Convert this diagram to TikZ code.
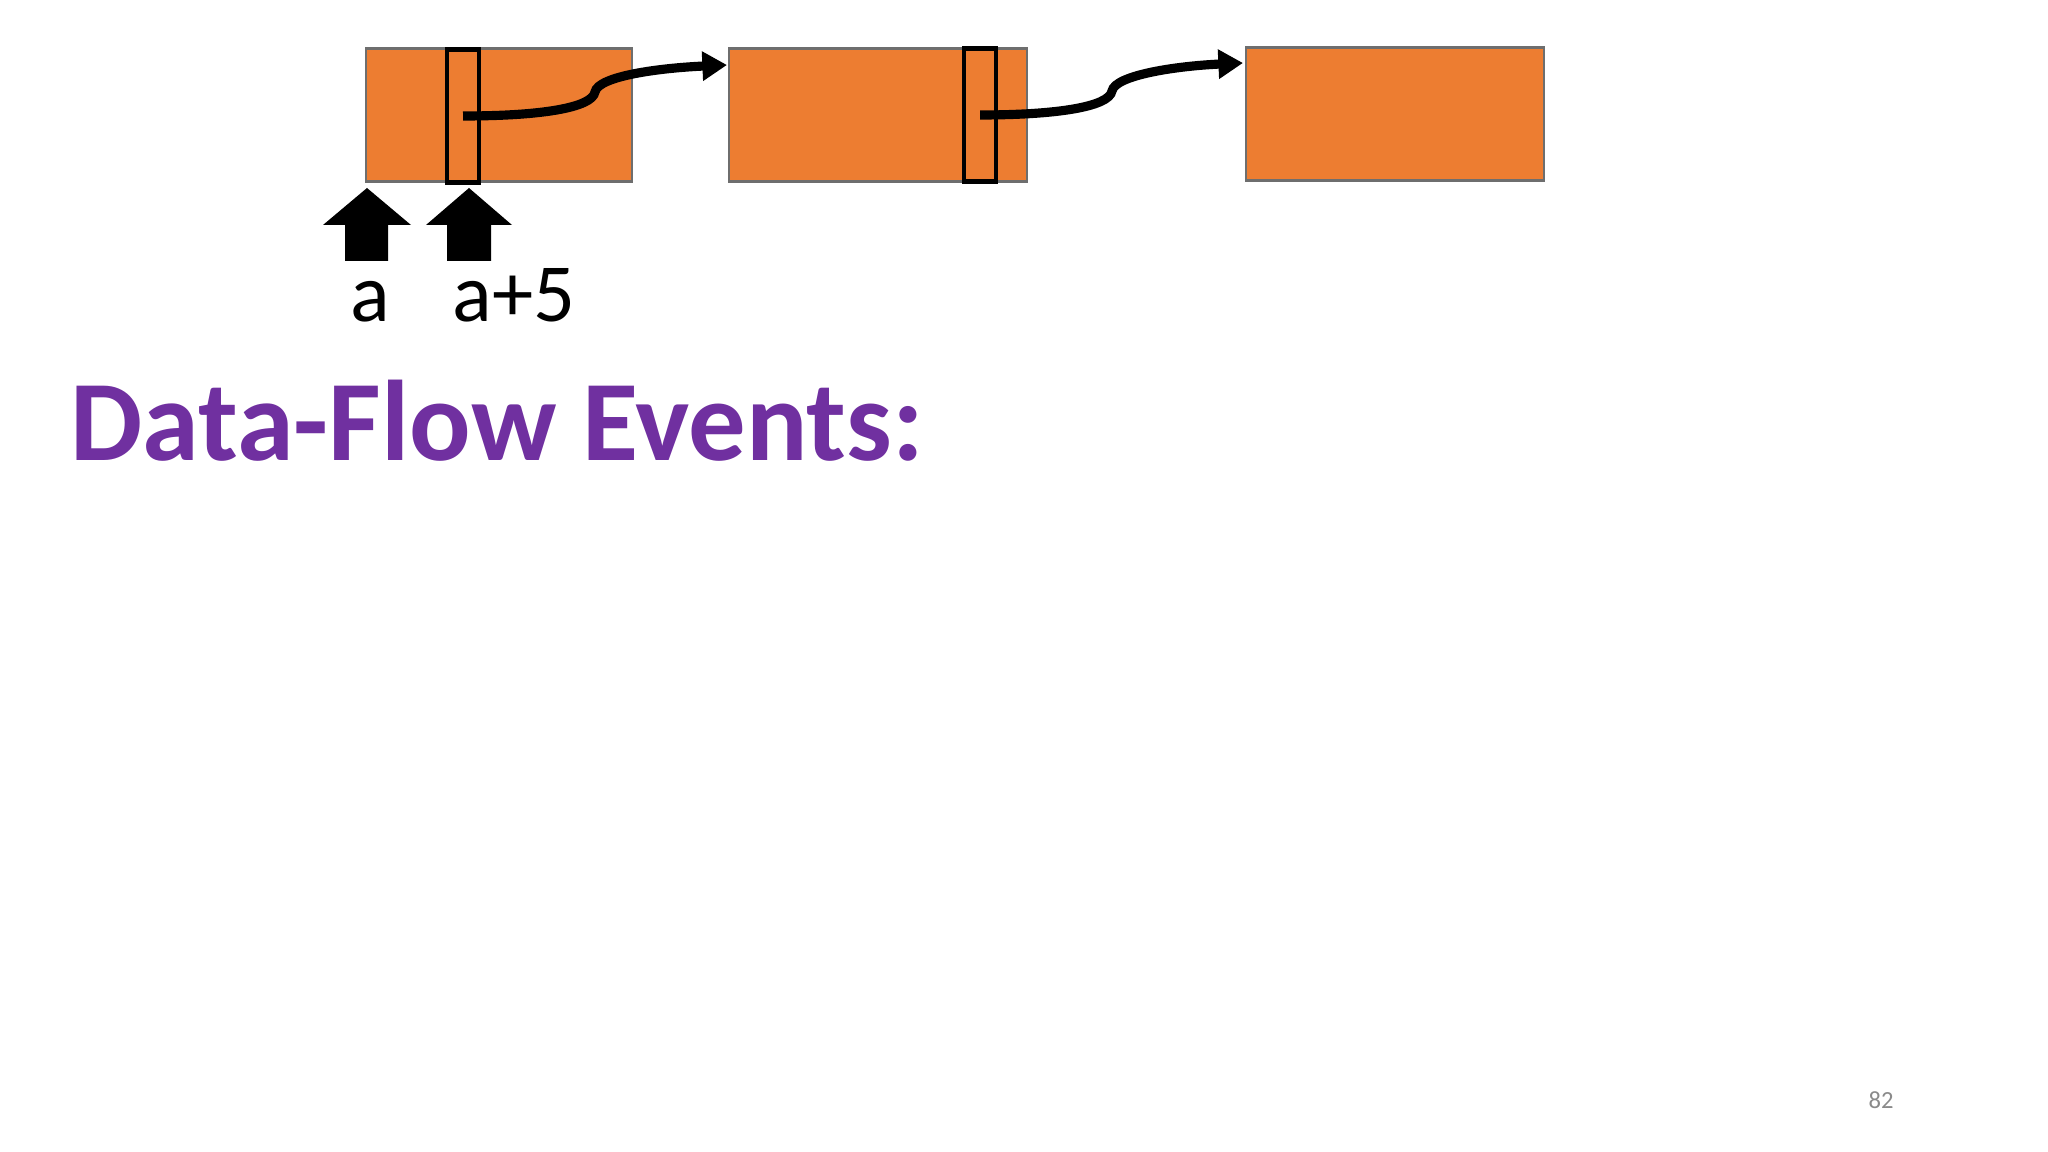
\documentclass[tikz,border=0pt]{standalone}
\usepackage{fontspec}
\setmainfont{Carlito}
\usetikzlibrary{arrows.meta}
\definecolor{blockorange}{HTML}{ED7D31}
\definecolor{titlepurple}{HTML}{7030A0}
\definecolor{edgegray}{HTML}{6E6E6E}
\definecolor{pagegray}{HTML}{8A8A8A}

\begin{document}
\begin{tikzpicture}[x=0.01cm,y=-0.01cm,
    block/.style={draw=edgegray,fill=blockorange,line width=0.6pt,inner sep=0pt,minimum height=1.33cm},
    field/.style={draw=black,line width=1.2pt,inner sep=0pt,minimum width=0.32cm,minimum height=1.33cm},
    link/.style={line width=2.6pt,-{Triangle[length=7pt,width=8pt]}},
    ptr/.style={fill=black},
    lbl/.style={inner sep=0pt,anchor=base,font=\fontsize{23.5}{26}\selectfont}]
\useasboundingbox (0,0) rectangle (2048,1152);
% memory blocks
\node[block,minimum width=2.66cm] (blk1) at (499,115) {};
\node[block,minimum width=2.97cm] (blk2) at (878,115) {};
\node[block,minimum width=2.97cm] (blk3) at (1395,114) {};
% pointer fields
\node[field] (field1) at (463,116) {};
\node[field] (field2) at (980,115) {};
% links
\coordinate (head1) at (727,65);
\coordinate (head2) at (1243,63);
\draw[link] (field1.center) .. controls (540,116) and (592,108) .. (595,92)
    .. controls (598,76) and (660,68) .. (head1);
\draw[link] (field2.center) .. controls (1056,115) and (1109,107) .. (1112,91)
    .. controls (1115,75) and (1177,66) .. (head2);
% pointers a and a+5
\fill[ptr] (367,188) -- (411,225) -- (388,225) -- (388,261) -- (345,261) -- (345,225) -- (323,225) -- cycle;
\fill[ptr] (469,188) -- (512,225) -- (491,225) -- (491,261) -- (447,261) -- (447,225) -- (426,225) -- cycle;
\node[lbl] (lblA) at (370,322) {a};
\node[lbl] (lblB) at (514,322) {a+5};
% title
\node[anchor=base west,inner sep=0pt,text=titlepurple,font=\fontsize{32.6}{38}\selectfont\bfseries] (title) at (70,461) {Data-Flow Events:};
\node[anchor=base,inner sep=0pt,text=pagegray,font=\fontsize{7}{8}\selectfont] (pageno) at (1881,1108) {82};
\end{tikzpicture}
\end{document}
